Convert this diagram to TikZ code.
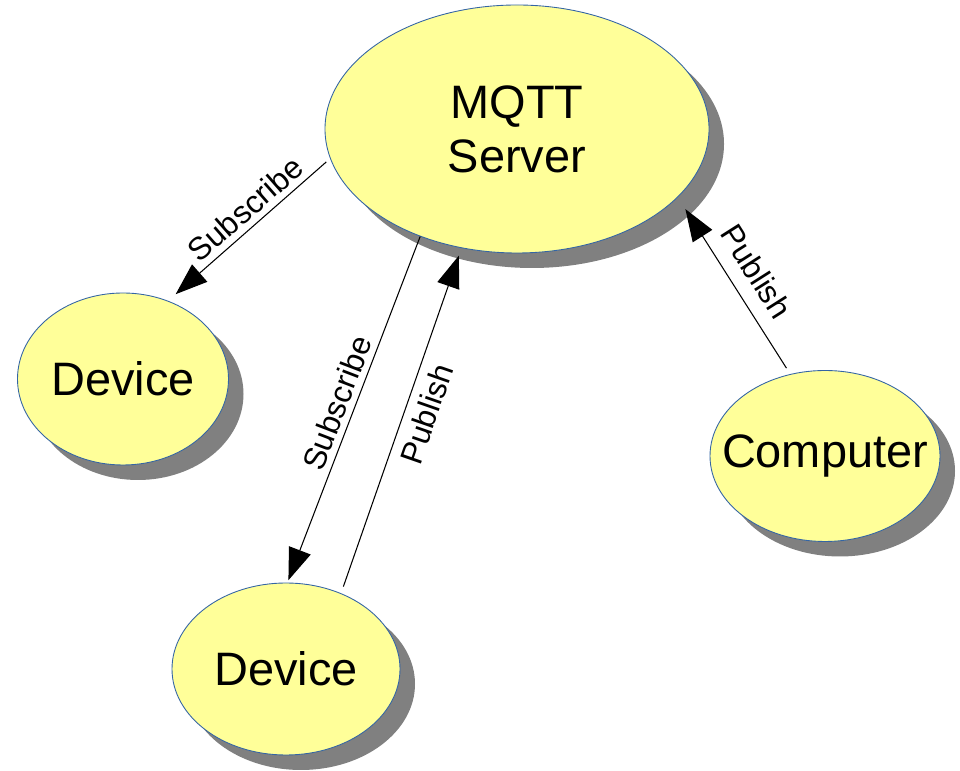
\documentclass[tikz,border=0pt]{standalone}
\usepackage{fontspec}
\setmainfont{Liberation Sans}
\usepackage{tikz}
\usetikzlibrary{shapes.geometric, shadows, arrows.meta}
\definecolor{bubblefill}{HTML}{FFFF99}
\definecolor{bubbleline}{HTML}{3465A4}
\definecolor{shadowgray}{HTML}{808080}

\begin{document}
\begin{tikzpicture}[
        bubble/.style={ellipse, draw=bubbleline, line width=0.5pt, fill=bubblefill, inner sep=0pt,
            drop shadow={shadow xshift=0.3cm, shadow yshift=-0.3cm, fill=shadowgray, opacity=1}},
        bubbletext/.style={font=\fontsize{26.7}{30.7}\selectfont, align=center},
        msg/.style={font=\fontsize{18}{21}\selectfont, sloped, inner sep=2pt},
        arrow/.style={-{Triangle[length=0.64cm, width=0.46cm]}, line width=0.6pt}
    ]
        \useasboundingbox (0, 0) rectangle (19.2, 15.42);

        % Broker and clients
        \node[bubble, minimum width=7.68cm, minimum height=4.96cm] (server) at (10.34, 12.84) {};
        \node[bubbletext] (server-text) at (server) {MQTT\\Server};
        \node[bubble, minimum width=4.22cm, minimum height=3.44cm] (dev1) at (2.46, 7.84) {};
        \node[bubbletext] (dev1-text) at (dev1) {Device};
        \node[bubble, minimum width=4.56cm, minimum height=3.44cm] (dev2) at (5.72, 2.04) {};
        \node[bubbletext] (dev2-text) at (dev2) {Device};
        \node[bubble, minimum width=4.6cm, minimum height=3.42cm] (pc) at (16.5, 6.30) {};
        \node[bubbletext] (pc-text) at (pc) {Computer};

        % Arrows
        \draw[arrow, shorten <=0.1cm, shorten >=0.2cm] (server.189) -- node[msg, pos=0.45, above=0.05cm] (sub1) {Subscribe} (dev1.60);
        \draw[arrow, shorten >=0.05cm] (server.228) -- node[msg, midway, above=0.05cm] (sub2) {Subscribe} (dev2.89);
        \draw[arrow, shorten <=0.14cm, shorten >=0.16cm] (dev2.54) -- node[msg, pos=0.54, below=0.12cm] (pub2) {Publish} (server.245);
        \draw[arrow, shorten <=0.14cm, shorten >=0.28cm] (pc.113) -- node[msg, midway, above=0.22cm] (pub1) {Publish} (server.337);
    \end{tikzpicture}
\end{document}
